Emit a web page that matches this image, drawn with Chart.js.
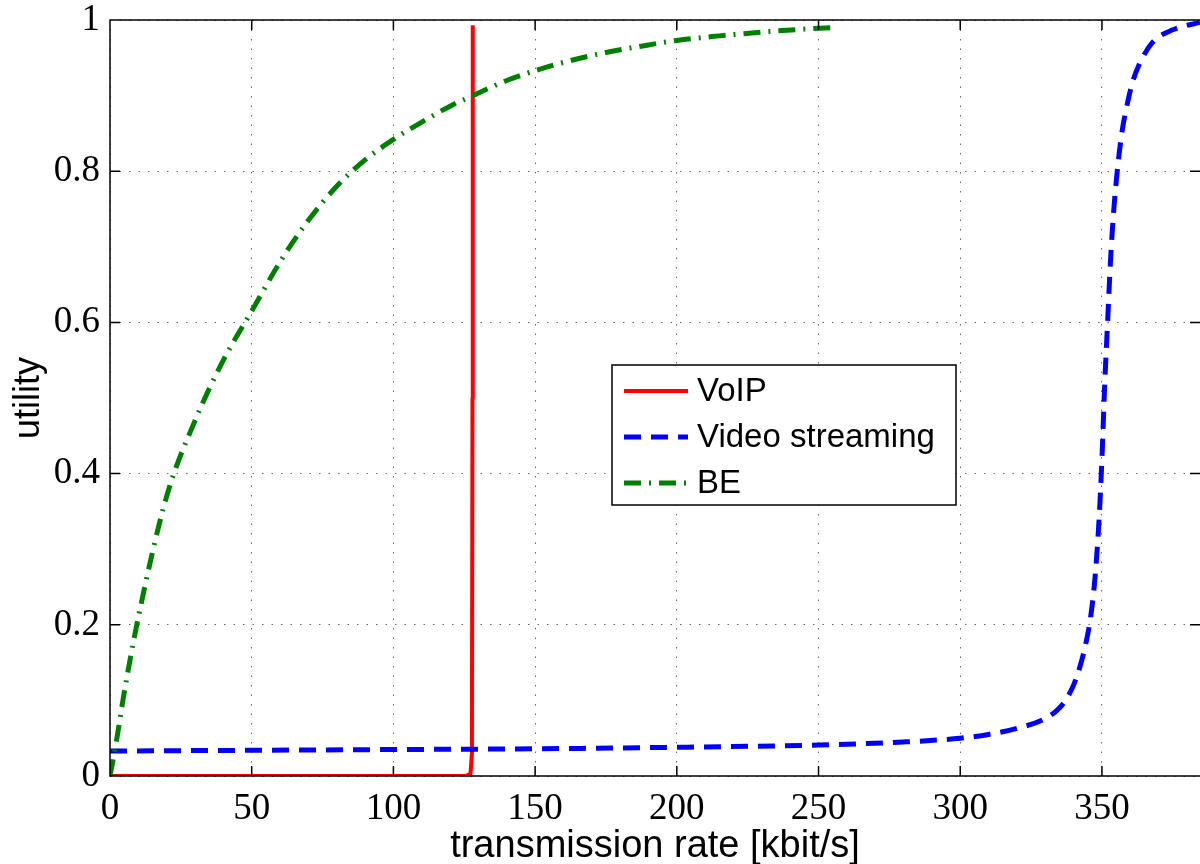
<!DOCTYPE html>
<html>
<head>
<meta charset="utf-8">
<script src="https://cdn.jsdelivr.net/npm/chart.js@4.4.0/dist/chart.umd.min.js"></script>
<style>
html, body { margin: 0; padding: 0; background: #fff; overflow: hidden; }
#wrap { width: 1200px; height: 864px; position: relative; }
</style>
</head>
<body>
<div id="wrap"><canvas id="utilityChart"></canvas></div>
<script>
// utility curves (x in kbit/s)
var voipRate    = [0, 125.5, 127.2, 127.7, 127.9, 128.0];
var voipUtility = [0, 0, 0.003, 0.03, 0.5, 0.993];

var videoRate    = [0, 50, 100, 150, 200, 250, 280, 300, 310, 320, 330, 335, 338, 341, 344, 346, 347.5, 349, 350, 351, 352, 353, 354, 355.4, 357, 359, 361, 363.5, 368, 375, 384.6];
var videoUtility = [0.033, 0.034, 0.035, 0.036, 0.038, 0.041, 0.045, 0.05, 0.055, 0.063, 0.076, 0.09, 0.105, 0.13, 0.17, 0.21, 0.26, 0.34, 0.42, 0.52, 0.6, 0.68, 0.74, 0.8, 0.85, 0.89, 0.92, 0.944, 0.971, 0.987, 0.997];

var beRate    = [0, 2, 5, 10, 20, 30, 40, 50, 60, 70, 80, 90, 100, 110, 120, 128, 140, 150, 160, 175, 190, 200, 215, 230, 245, 256];
var beUtility = [0, 0.04, 0.11, 0.21, 0.37, 0.47, 0.55, 0.615, 0.68, 0.735, 0.78, 0.815, 0.842, 0.865, 0.886, 0.90, 0.92, 0.933, 0.944, 0.957, 0.967, 0.973, 0.979, 0.984, 0.988, 0.99];

var xTicks = [0, 50, 100, 150, 200, 250, 300, 350];
var yTicks = [0, 0.2, 0.4, 0.6, 0.8, 1];

function toPoints(xs, ys) {
    return xs.map(function (x, i) { return { x: x, y: ys[i] }; });
}

// box + inward ticks, MATLAB style
var matlabFrame = {
    id: 'matlabFrame',
    afterDatasetsDraw: function (chart) {
        var a = chart.chartArea, ctx = chart.ctx;
        var xs = chart.scales.x, ys = chart.scales.y;
        var len = 10;
        ctx.save();
        ctx.strokeStyle = '#000';
        ctx.lineWidth = 1.5;
        ctx.beginPath();
        ctx.moveTo(a.right + 2, a.top);
        ctx.lineTo(a.left, a.top);
        ctx.lineTo(a.left, a.bottom);
        ctx.lineTo(a.right + 2, a.bottom);
        xTicks.forEach(function (v) {
            var px = xs.getPixelForValue(v);
            ctx.moveTo(px, a.bottom); ctx.lineTo(px, a.bottom - len);
            ctx.moveTo(px, a.top); ctx.lineTo(px, a.top + len);
        });
        yTicks.forEach(function (v) {
            var py = ys.getPixelForValue(v);
            ctx.moveTo(a.left, py); ctx.lineTo(a.left + len, py);
            ctx.moveTo(a.right, py); ctx.lineTo(a.right - len, py);
        });
        ctx.stroke();
        ctx.restore();
    }
};

// legend box inside the axes
var boxLegend = {
    id: 'boxLegend',
    afterDraw: function (chart) {
        var ctx = chart.ctx;
        var bx = 612, by = 365, bw = 344, bh = 140;
        ctx.save();
        ctx.fillStyle = '#fff';
        ctx.fillRect(bx, by, bw, bh);
        ctx.strokeStyle = '#000';
        ctx.lineWidth = 1.5;
        ctx.strokeRect(bx, by, bw, bh);
        ctx.font = '33px "Liberation Sans"';
        ctx.textBaseline = 'middle';
        ctx.fillStyle = '#000';
        chart.data.datasets.forEach(function (ds, i) {
            var y = by + 26 + i * 46;
            ctx.save();
            ctx.strokeStyle = ds.borderColor;
            ctx.lineWidth = ds.borderWidth;
            ctx.setLineDash(ds.borderDash || []);
            ctx.beginPath();
            ctx.moveTo(624, y);
            ctx.lineTo(688, y);
            ctx.stroke();
            ctx.restore();
            ctx.fillText(ds.label, 697, y + 1);
        });
        ctx.restore();
    }
};

var ctx = document.getElementById('utilityChart').getContext('2d');
var utilityChart = new Chart(ctx, {
    type: 'line',
    data: {
        datasets: [{
            label: 'VoIP',
            data: toPoints(voipRate, voipUtility),
            borderColor: '#ff0000',
            borderWidth: 4,
            borderJoinStyle: 'round',
            tension: 0,
            order: 2
        }, {
            label: 'Video streaming',
            data: toPoints(videoRate, videoUtility),
            borderColor: '#0000ff',
            borderWidth: 5,
            borderDash: [17, 10],
            cubicInterpolationMode: 'monotone',
            order: 1
        }, {
            label: 'BE',
            data: toPoints(beRate, beUtility),
            borderColor: '#008000',
            borderWidth: 5,
            borderDash: [17, 8, 2, 8],
            cubicInterpolationMode: 'monotone',
            order: 0
        }]
    },
    options: {
        responsive: true,
        maintainAspectRatio: false,
        animation: false,
        layout: { padding: { top: 20, right: 0, left: 0, bottom: 0 } },
        elements: { point: { radius: 0 } },
        plugins: {
            legend: { display: false },
            tooltip: { enabled: false }
        },
        scales: {
            x: {
                type: 'linear',
                min: 0,
                max: 384.6,
                afterFit: function (s) { s.height = 88; s.paddingLeft = 0; s.paddingRight = 0; },
                afterBuildTicks: function (s) { s.ticks = xTicks.map(function (v) { return { value: v }; }); },
                grid: { color: 'rgba(0,0,0,0.6)', lineWidth: 1, drawTicks: false },
                border: { display: false, dash: [1.5, 8] },
                ticks: {
                    font: { family: 'Liberation Serif', size: 37 },
                    color: '#000',
                    padding: 11,
                    maxRotation: 0,
                    callback: function (v) { return String(v); }
                },
                title: {
                    display: true,
                    text: 'transmission rate [kbit/s]',
                    font: { family: 'Liberation Sans', size: 38 },
                    color: '#000',
                    padding: { top: 0, bottom: -5 }
                }
            },
            y: {
                min: 0,
                max: 1,
                afterFit: function (s) { s.width = 110; s.paddingTop = 0; s.paddingBottom = 0; },
                afterBuildTicks: function (s) { s.ticks = yTicks.map(function (v) { return { value: v }; }); },
                grid: { color: 'rgba(0,0,0,0.6)', lineWidth: 1, drawTicks: false },
                border: { display: false, dash: [1.5, 8] },
                ticks: {
                    font: { family: 'Liberation Serif', size: 37 },
                    color: '#000',
                    padding: 10,
                    callback: function (v) { return String(v); }
                },
                title: {
                    display: true,
                    text: 'utility',
                    font: { family: 'Liberation Sans', size: 36 },
                    color: '#000',
                    padding: { top: 7, bottom: 0 }
                }
            }
        }
    },
    plugins: [matlabFrame, boxLegend]
});
</script>
</body>
</html>
